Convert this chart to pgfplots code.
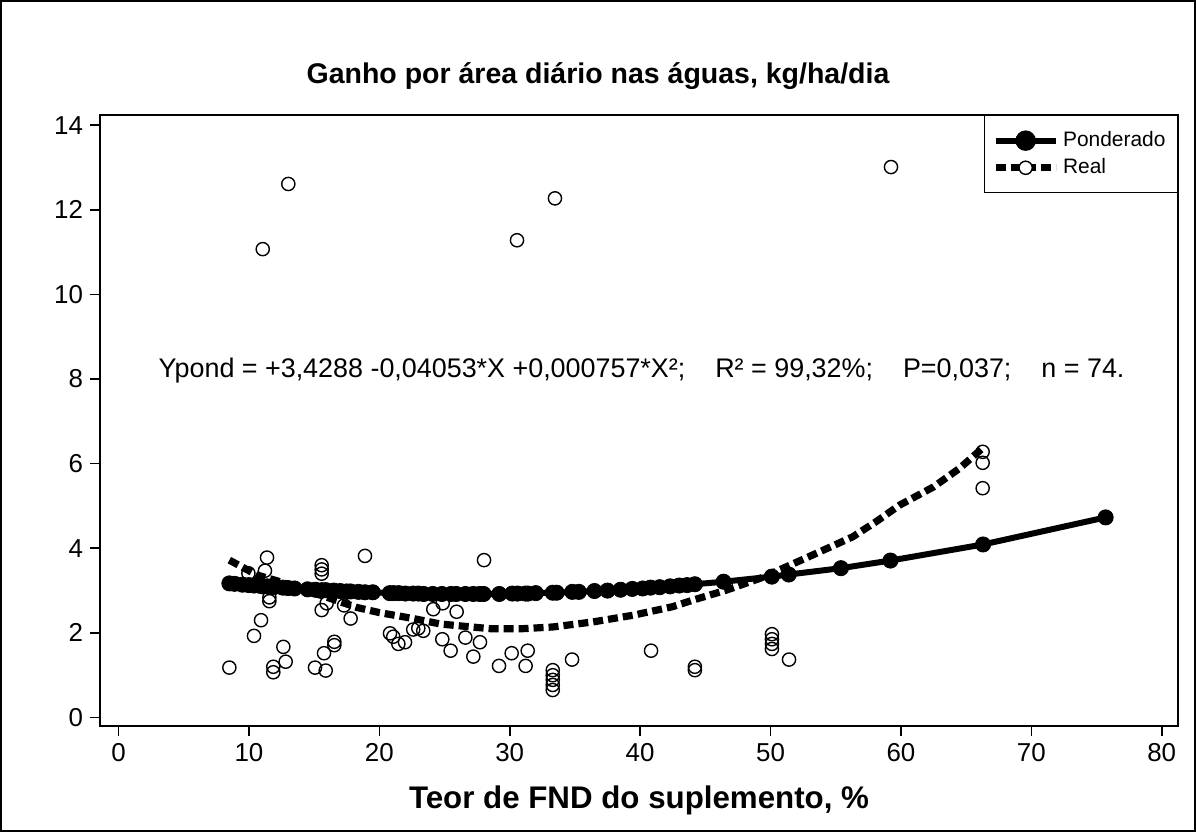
\documentclass[border=0pt]{standalone}
\usepackage{fontspec}
\setmainfont{Liberation Sans}
\usepackage{pgfplots}
\pgfplotsset{compat=1.18}
\pgfplotstableread{
x y
8.5 3.17
8.9 3.16
9.5 3.14
10.0 3.13
10.4 3.12
10.9 3.11
11.1 3.10
11.4 3.10
11.6 3.09
11.9 3.08
12.6 3.07
13.0 3.06
13.5 3.05
14.5 3.03
15.1 3.02
15.6 3.01
15.9 3.01
16.5 3.00
17.0 2.99
17.5 2.98
17.8 2.98
18.4 2.97
18.9 2.96
19.5 2.96
20.8 2.94
21.1 2.94
21.5 2.94
22.0 2.93
22.6 2.93
23.0 2.93
23.4 2.92
24.1 2.92
24.8 2.92
25.5 2.92
25.9 2.92
26.6 2.92
27.2 2.92
27.7 2.92
28.0 2.92
29.2 2.92
30.2 2.93
30.6 2.93
31.2 2.93
31.4 2.93
32.0 2.94
33.3 2.95
33.6 2.95
34.8 2.97
35.3 2.97
36.5 2.99
37.5 3.00
38.5 3.02
39.4 3.04
40.2 3.05
40.8 3.07
41.5 3.08
42.3 3.10
43.0 3.12
43.6 3.13
44.2 3.15
46.4 3.21
50.1 3.33
51.4 3.38
55.4 3.53
59.2 3.71
66.3 4.09
75.7 4.73
}\pond
\pgfplotstableread{
x y
8.5 3.72
10.6 3.37
12.4 3.21
14.0 3.04
16.0 2.84
18.3 2.60
20.0 2.48
22.6 2.34
24.7 2.21
26.4 2.16
28.5 2.10
31.0 2.10
33.3 2.14
36.4 2.26
39.5 2.42
42.5 2.62
44.1 2.78
46.6 3.01
49.2 3.29
51.2 3.56
53.8 3.92
56.3 4.27
58.1 4.63
59.9 5.02
62.5 5.45
64.5 5.89
66.2 6.35
}\realfit
\pgfplotstableread{
x y
8.5 1.18
10.39 1.93
10.93 2.30
9.96 3.41
11.39 3.78
11.23 3.47
11.57 2.84
11.57 2.75
11.87 1.20
11.87 1.07
12.64 1.67
12.82 1.32
15.07 1.18
15.89 1.11
15.76 1.52
16.55 1.79
16.55 1.71
15.58 3.60
15.58 3.50
15.58 3.40
15.58 2.54
15.96 2.70
18.9 3.82
17.8 2.34
17.3 2.65
20.82 1.99
21.07 1.91
21.46 1.74
21.97 1.78
22.6 2.08
22.99 2.11
23.37 2.05
24.14 2.56
24.86 2.70
25.93 2.50
24.83 1.85
25.47 1.58
26.6 1.89
27.72 1.78
27.21 1.44
28.03 3.72
29.18 1.22
30.15 1.52
31.38 1.58
31.22 1.22
33.3 1.12
33.3 1.00
33.3 0.89
33.3 0.77
33.3 0.65
34.78 1.37
40.84 1.58
44.2 1.20
44.2 1.12
50.11 1.97
50.11 1.85
50.11 1.74
50.11 1.62
51.42 1.37
66.27 6.28
66.27 6.02
66.27 5.42
11.06 11.07
13.02 12.61
30.56 11.28
33.47 12.27
59.24 13.01
}\realpts
\begin{document}
\begin{tikzpicture}
\path[use as bounding box] (0,0) rectangle (598bp,416bp);
\draw[line width=0.6bp] (0.5bp,0.5bp) rectangle (597.5bp,415.5bp);
\begin{axis}[
  at={(50bp,53bp)}, anchor=south west,
  width=539bp, height=305.5bp, scale only axis,
  xmin=-1.42, xmax=81.25, ymin=-0.2, ymax=14.24,
  xtick={0,10,...,80}, ytick={0,2,...,14},
  xtick pos=bottom, ytick pos=left,
  tick align=outside, major tick length=5bp,
  axis line style={line width=0.8bp},
  every tick/.style={line width=0.8bp, black},
  /pgf/number format/assume math mode=true,
  ticklabel style={font=\fontsize{13}{13}\selectfont},
  legend style={at={(1,1)}, anchor=north east, draw=black, line width=0.6bp,
    font=\fontsize{10.5}{12}\selectfont, inner xsep=4bp, inner ysep=6bp,
    row sep=0.5bp, cells={anchor=west}},
]
\addplot[only marks, mark=o, mark size=3.3bp, mark options={line width=0.7bp, black}, forget plot] table[x=x,y=y] {\realpts};
\addplot[line width=3bp, black, mark=*, mark size=3.8bp, mark options={solid, fill=black, line width=0.4bp},
  legend image code/.code={\draw[line width=3bp] (0bp,0bp) -- (30bp,0bp); \fill (15bp,0bp) circle (3.6bp);}]
  table[x=x,y=y] {\pond};
\addlegendentry{Ponderado}
\addplot[line width=3.6bp, black, dash pattern=on 5bp off 2.5bp, no marks,
  legend image code/.code={\draw[line width=3.4bp, dash pattern=on 5bp off 2.5bp] (0bp,0bp) -- (30bp,0bp); \draw[fill=white, line width=0.7bp, solid] (15bp,0bp) circle (3.3bp);}]
  table[x=x,y=y] {\realfit};
\addlegendentry{Real}
\node[anchor=base west, font=\fontsize{13.5}{14}\selectfont, inner sep=0pt] at (axis cs:3.05,8.03) {Ypond = +3,4288 -0,04053*X +0,000757*X²;\hspace{15bp}R² = 99,32\%;\hspace{15bp}P=0,037;\hspace{15bp}n = 74.};
\end{axis}
\node[font=\bfseries\fontsize{14.3}{18}\selectfont, anchor=base, inner sep=0pt] at (299bp,374.4bp) {Ganho por área diário nas águas, kg/ha/dia};
\node[font=\bfseries\fontsize{15.7}{18}\selectfont, anchor=base, inner sep=0pt] at (319.5bp,11.9bp) {Teor de FND do suplemento, \%};
\end{tikzpicture}
\end{document}
